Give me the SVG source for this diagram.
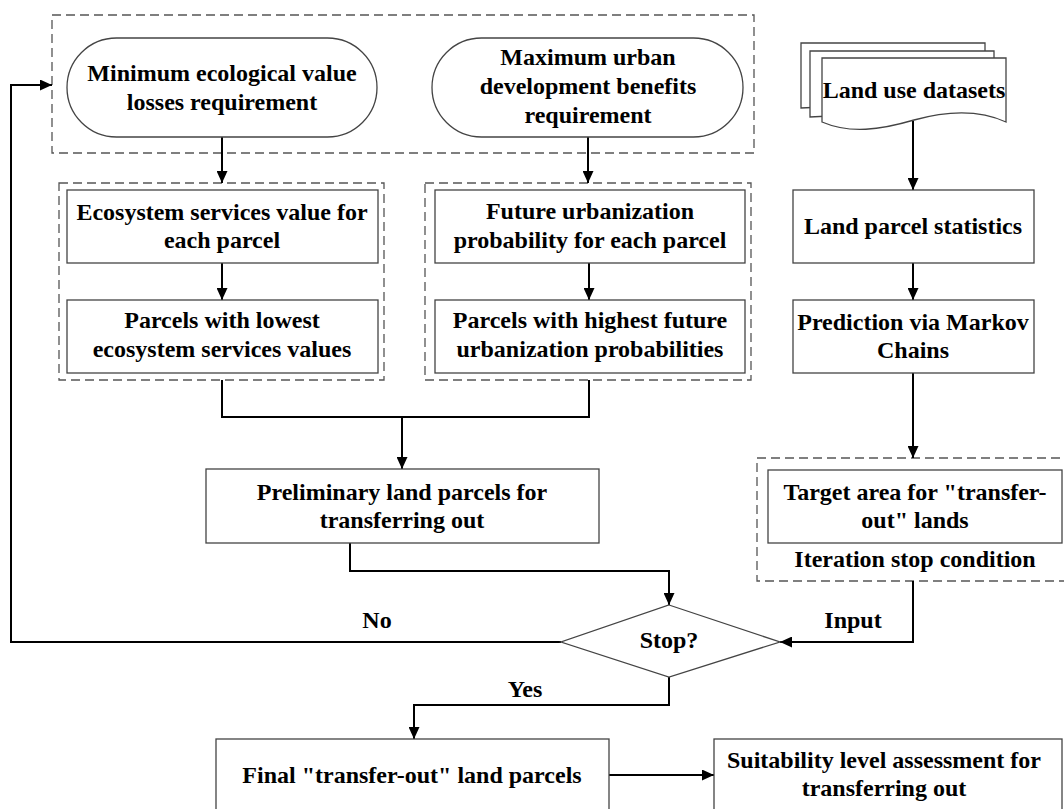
<svg xmlns="http://www.w3.org/2000/svg" width="1064" height="809" viewBox="0 0 1064 809">
  <style>
    .t { font-family: "Liberation Serif", "Times New Roman", serif; font-weight: bold; font-size: 24px; fill: #000; text-anchor: middle; }
    .box { fill: #fff; stroke: #444; stroke-width: 1.3; }
    .dash { fill: none; stroke: #555; stroke-width: 1.3; stroke-dasharray: 9 5; }
    .conn { fill: none; stroke: #000; stroke-width: 2; }
    .arr { marker-end: url(#ah); }
  </style>
  <defs>
    <marker id="ah" markerUnits="userSpaceOnUse" markerWidth="12" markerHeight="11" refX="12" refY="5.5" orient="auto">
      <path d="M0,0 L12,5.5 L0,11 Z" fill="#000"/>
    </marker>
  </defs>
  <rect width="1064" height="809" fill="#fff"/>

  <!-- dashed grouping frames -->
  <g id="frames">
    <rect class="dash" x="52" y="15" width="702" height="138"/>
    <rect class="dash" x="59" y="183" width="325" height="197"/>
    <rect class="dash" x="425" y="183" width="326" height="197"/>
    <rect class="dash" x="757" y="458" width="311" height="123"/>
  </g>

  <!-- connectors -->
  <g id="connectors">
    <line class="conn arr" x1="222" y1="137" x2="222" y2="183"/>
    <line class="conn arr" x1="588" y1="137" x2="588" y2="183"/>
    <line class="conn arr" x1="222" y1="263" x2="222" y2="300"/>
    <line class="conn arr" x1="589" y1="263" x2="589" y2="300"/>
    <polyline class="conn" points="222,380 222,417 589,417 589,380"/>
    <line class="conn arr" x1="402" y1="417" x2="402" y2="469"/>
    <polyline class="conn arr" points="350,543 350,571 669,571 669,605"/>
    <line class="conn arr" x1="913" y1="121" x2="913" y2="190"/>
    <line class="conn arr" x1="913" y1="263" x2="913" y2="300"/>
    <line class="conn arr" x1="913" y1="373" x2="913" y2="458"/>
    <polyline class="conn arr" points="913,581 913,642 780,642"/>
    <polyline class="conn arr" points="561,642 11,642 11,85 52,85"/>
    <polyline class="conn arr" points="669,677 669,705 414,705 414,739"/>
    <line class="conn arr" x1="609" y1="775" x2="714" y2="775"/>
    <text class="t" x="377" y="628">No</text>
    <text class="t" x="525" y="697">Yes</text>
    <text class="t" x="853" y="628">Input</text>
  </g>

  <g id="min-eco">
    <rect class="box" x="67" y="38" width="310" height="99" rx="49.5" ry="49.5"/>
    <text class="t" x="222" y="81">Minimum ecological value</text>
    <text class="t" x="222" y="110">losses requirement</text>
  </g>

  <g id="max-urban">
    <rect class="box" x="432" y="38" width="311" height="99" rx="49.5" ry="49.5"/>
    <text class="t" x="588" y="65">Maximum urban</text>
    <text class="t" x="588" y="94">development benefits</text>
    <text class="t" x="588" y="123">requirement</text>
  </g>

  <g id="esv">
    <rect class="box" x="67" y="190" width="311" height="73"/>
    <text class="t" x="222" y="220">Ecosystem services value for</text>
    <text class="t" x="222" y="248">each parcel</text>
  </g>

  <g id="lowest-esv">
    <rect class="box" x="67" y="300" width="311" height="73"/>
    <text class="t" x="222" y="328">Parcels with lowest</text>
    <text class="t" x="222" y="357">ecosystem services values</text>
  </g>

  <g id="urban-prob">
    <rect class="box" x="435" y="190" width="310" height="73"/>
    <text class="t" x="590" y="219">Future urbanization</text>
    <text class="t" x="590" y="248">probability for each parcel</text>
  </g>

  <g id="highest-prob">
    <rect class="box" x="435" y="300" width="310" height="73"/>
    <text class="t" x="590" y="328">Parcels with highest future</text>
    <text class="t" x="590" y="357">urbanization probabilities</text>
  </g>

  <g id="datasets">
    <path class="box" d="M801,43 H985 V100 L801,108 Z"/>
    <path class="box" d="M810,51 H994 V108 L810,117 Z"/>
    <path class="box" d="M822,58 H1006 V122 C980,110 950,110 914,120 C880,130 850,134 822,122 Z"/>
    <text class="t" x="914" y="98">Land use datasets</text>
  </g>

  <g id="parcel-stats">
    <rect class="box" x="793" y="190" width="241" height="73"/>
    <text class="t" x="913" y="234">Land parcel statistics</text>
  </g>

  <g id="markov">
    <rect class="box" x="793" y="300" width="241" height="73"/>
    <text class="t" x="913" y="330">Prediction via Markov</text>
    <text class="t" x="913" y="358">Chains</text>
  </g>

  <g id="target-area">
    <rect class="box" x="768" y="470" width="294" height="73"/>
    <text class="t" x="915" y="500">Target area for "transfer-</text>
    <text class="t" x="915" y="528">out" lands</text>
    <text class="t" x="915" y="567">Iteration stop condition</text>
  </g>

  <g id="preliminary">
    <rect class="box" x="206" y="469" width="393" height="74"/>
    <text class="t" x="402" y="500">Preliminary land parcels for</text>
    <text class="t" x="402" y="528">transferring out</text>
  </g>

  <g id="stop">
    <polygon class="box" points="669,605 780,642 669,677 561,642"/>
    <text class="t" x="669" y="648">Stop?</text>
  </g>

  <g id="final">
    <rect class="box" x="216" y="739" width="393" height="76"/>
    <text class="t" x="412" y="783">Final "transfer-out" land parcels</text>
  </g>

  <g id="suitability">
    <rect class="box" x="714" y="739" width="348" height="76"/>
    <text class="t" x="884" y="768">Suitability level assessment for</text>
    <text class="t" x="884" y="796">transferring out</text>
  </g>
</svg>
